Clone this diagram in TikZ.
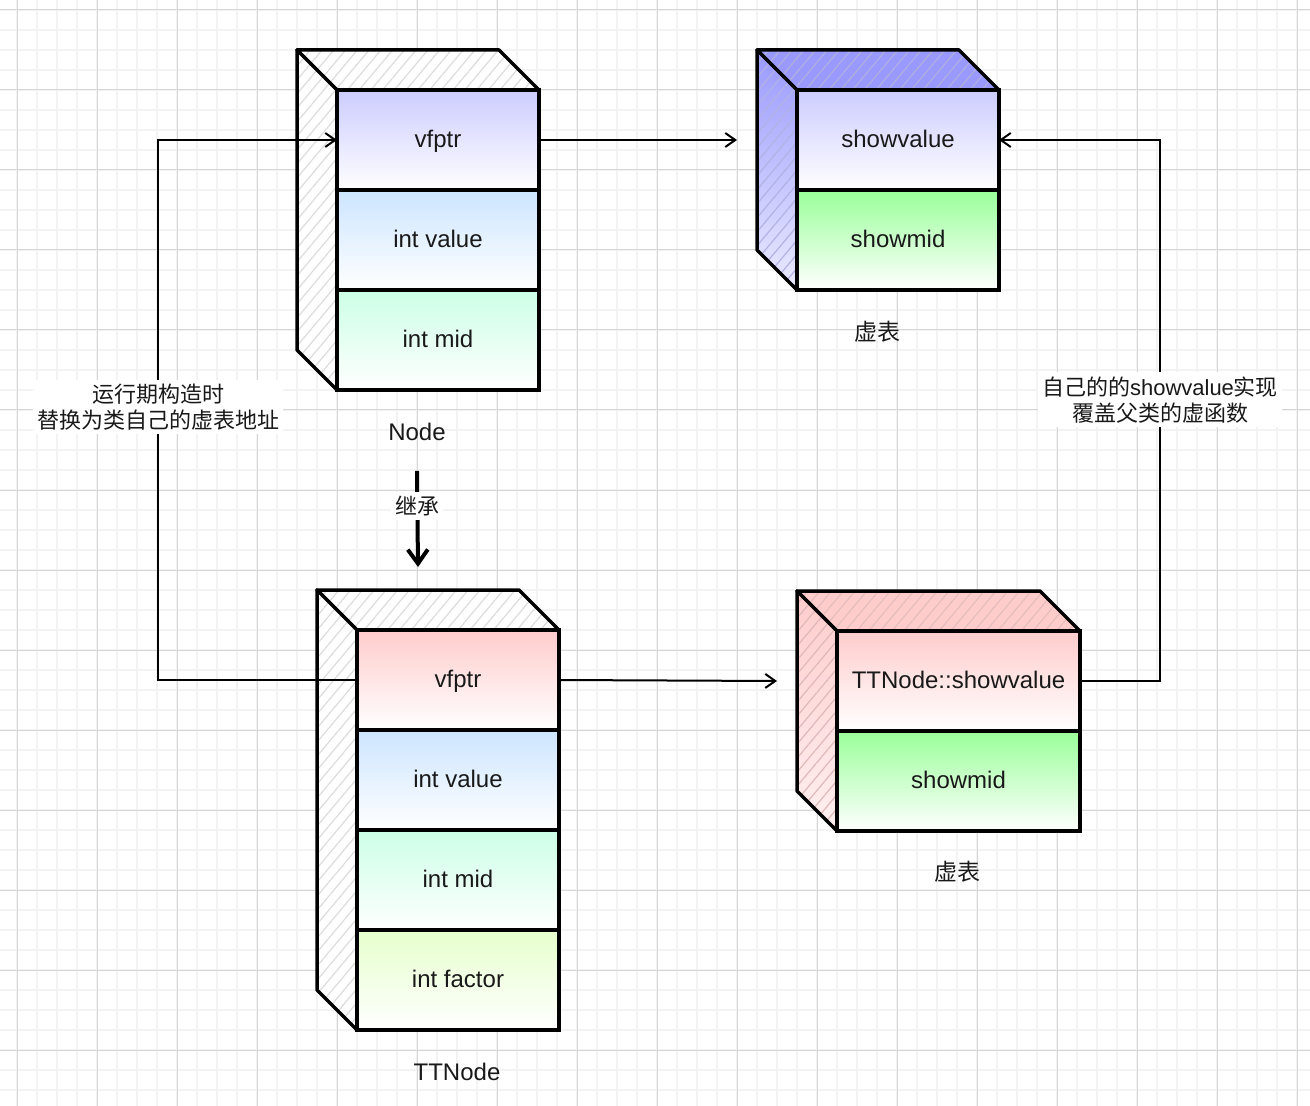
\documentclass[tikz,border=0pt]{standalone}
\usepackage{fontspec}
\setmainfont{Liberation Sans}
\newfontfamily\cjk{Noto Sans CJK SC}
\usetikzlibrary{arrows.meta, positioning, backgrounds, patterns.meta}
\definecolor{gridminor}{HTML}{F3F3F3}
\definecolor{gridmajor}{HTML}{D6D6D6}
\definecolor{ptrblue}{HTML}{CCCCFF}
\definecolor{valblue}{HTML}{CCE5FF}
\definecolor{midgreen}{HTML}{CCFFE6}
\definecolor{factgreen}{HTML}{E6FFCC}
\definecolor{showgreen}{HTML}{99FF99}
\definecolor{ptrred}{HTML}{FFCCCC}
\definecolor{tabblue}{HTML}{9999FF}
\definecolor{hatchgray}{HTML}{DCDCDC}

\begin{document}
\begin{tikzpicture}[x=0.5pt, y=-0.5pt,
  every node/.style={font=\fontsize{12}{14}\selectfont, text=black!90},
  cell/.style={draw, line width=1.75pt, minimum width=101pt, minimum height=50pt,
    inner sep=0pt, outer sep=0pt, text height=1em, text depth=0.25em,
    top color=#1, bottom color=white},
  wide/.style={minimum width=121.5pt},
  face/.style={draw, line width=1.75pt, line join=round,
    pattern={Lines[angle=50, distance=4.5pt, line width=0.6pt]}},
  lab/.style={font=\cjk\fontsize{11.5}{14}\selectfont},
  note/.style={fill=white, align=center, inner sep=2pt, font=\cjk\fontsize{11}{13}\selectfont},
  conn/.style={line width=1pt, -{Straight Barb[length=5pt, width=7pt]}},
  inh/.style={line width=2pt, -{Straight Barb[length=7pt, width=10pt]}}]
  \useasboundingbox (0,0) rectangle (1310,1106);

  % Node
  \node[cell=ptrblue] (nvf) at (438,140) {vfptr};
  \node[cell=valblue, below=0pt of nvf] (nval) {int value};
  \node[cell=midgreen, below=0pt of nval] (nmid) {int mid};
  \node (nlab) at (417,432) {Node};

  % vtable of Node
  \node[cell=ptrblue] (v1show) at (898,140) {showvalue};
  \node[cell=showgreen, below=0pt of v1show] (v1mid) {showmid};
  \node[lab] (v1lab) at (877,332) {虚表};

  % TTNode
  \node[cell=ptrred] (tvf) at (458,680) {vfptr};
  \node[cell=valblue, below=0pt of tvf] (tval) {int value};
  \node[cell=midgreen, below=0pt of tval] (tmid) {int mid};
  \node[cell=factgreen, below=0pt of tmid] (tfac) {int factor};
  \node (tlab) at (457,1072) {TTNode};

  % vtable of TTNode
  \node[cell=ptrred, wide] (v2show) at (958.5,681) {TTNode::showvalue};
  \node[cell=showgreen, wide, below=0pt of v2show] (v2mid) {showmid};
  \node[lab] (v2lab) at (957,872) {虚表};

  \begin{scope}[on background layer]
    \foreach \x in {17,37,...,1297} \draw[gridminor, line width=1pt] (\x,0) -- (\x,1106);
    \foreach \y in {10,30,...,1090} \draw[gridminor, line width=1pt] (0,\y) -- (1310,\y);
    \foreach \x in {17,97,...,1297} \draw[gridmajor, line width=0.5pt] (\x,0) -- (\x,1106);
    \foreach \y in {10,90,...,1090} \draw[gridmajor, line width=0.5pt] (0,\y) -- (1310,\y);
    % cube faces
    \draw[face, preaction={fill=white}, pattern color=hatchgray]
      (nvf.north west) -- ++(-40,-40) -- ([shift={(-40,-40)}]nvf.north east) -- (nvf.north east) -- cycle;
    \draw[face, preaction={fill=white}, pattern color=hatchgray]
      (nvf.north west) -- ++(-40,-40) -- ([shift={(-40,-40)}]nmid.south west) -- (nmid.south west) -- cycle;
    \draw[face, preaction={fill=tabblue}, pattern color=tabblue!80!black!60]
      (v1show.north west) -- ++(-40,-40) -- ([shift={(-40,-40)}]v1show.north east) -- (v1show.north east) -- cycle;
    \draw[face, preaction={top color=tabblue, bottom color=tabblue!20}, pattern color=tabblue!70!gray!70]
      (v1show.north west) -- ++(-40,-40) -- ([shift={(-40,-40)}]v1mid.south west) -- (v1mid.south west) -- cycle;
    \draw[face, preaction={fill=white}, pattern color=hatchgray]
      (tvf.north west) -- ++(-40,-40) -- ([shift={(-40,-40)}]tvf.north east) -- (tvf.north east) -- cycle;
    \draw[face, preaction={fill=white}, pattern color=hatchgray]
      (tvf.north west) -- ++(-40,-40) -- ([shift={(-40,-40)}]tfac.south west) -- (tfac.south west) -- cycle;
    \draw[face, preaction={fill=ptrred}, pattern color=ptrred!80!gray]
      (v2show.north west) -- ++(-40,-40) -- ([shift={(-40,-40)}]v2show.north east) -- (v2show.north east) -- cycle;
    \draw[face, preaction={top color=ptrred, bottom color=ptrred!30}, pattern color=ptrred!75!gray]
      (v2show.north west) -- ++(-40,-40) -- ([shift={(-40,-40)}]v2mid.south west) -- (v2mid.south west) -- cycle;
  \end{scope}

  \coordinate (lx) at (158,0);
  \coordinate (rx) at (1160,0);
  \coordinate (ttop) at ([shift={(-40,-40)}]tvf.north);

  % connectors
  \draw[conn] (nvf.east) -- ([xshift=-30pt]v1show.west);
  \draw[conn] (tvf.east) -- ([xshift=-30pt]v2show.west);
  \draw[conn] (tvf.west) -- (tvf.west -| lx) -- node[note, pos=0.506] {运行期构造时\\替换为类自己的虚表地址} (nvf.west -| lx) -- (nvf.west);
  \draw[conn] (v2show.east) -- (v2show.east -| rx) -- node[note, pos=0.52] {自己的的{\fontspec{Liberation Sans}showvalue}实现\\覆盖父类的虚函数} (v1show.east -| rx) -- (v1show.east);
  \draw[inh] ([yshift=-11.5pt]nlab.south) -- node[note, pos=0.37, font=\cjk\fontsize{11}{13}\selectfont] {继承} ([yshift=11.5pt]ttop);
\end{tikzpicture}
\end{document}
